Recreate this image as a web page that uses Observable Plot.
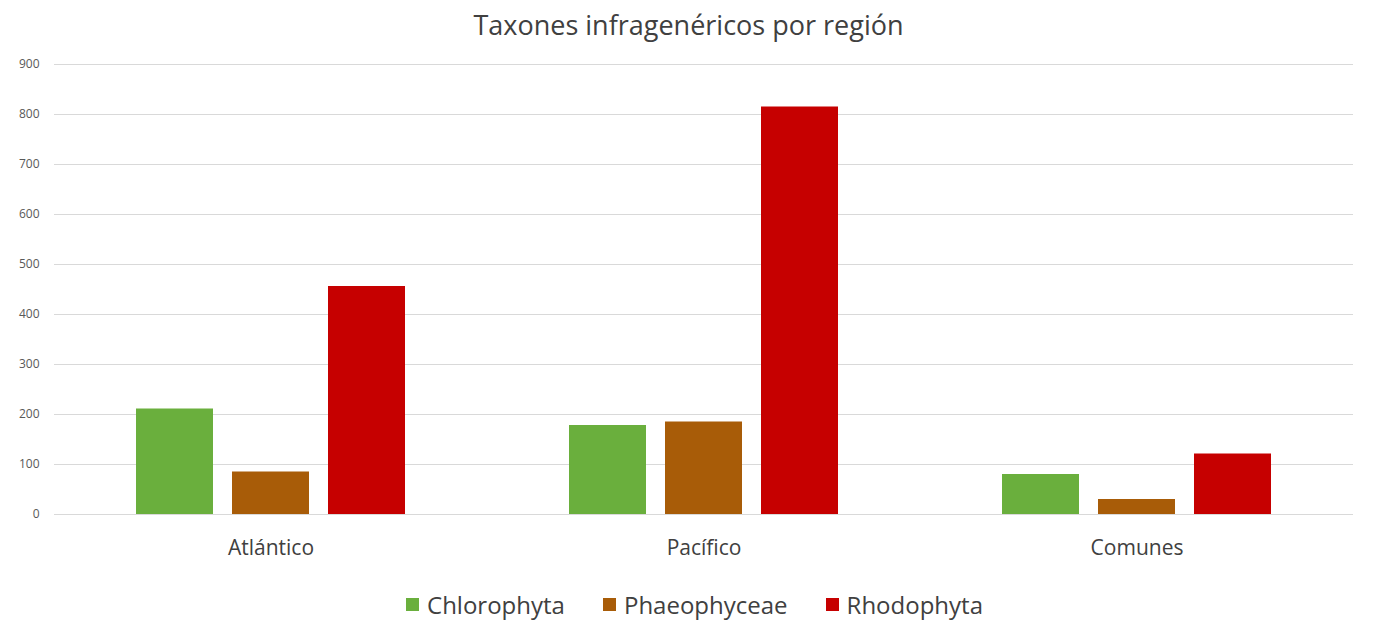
<!DOCTYPE html>
<html>
<head>
<meta charset="utf-8">
<script src="https://cdn.jsdelivr.net/npm/d3@7"></script>
<script src="https://cdn.jsdelivr.net/npm/@observablehq/plot@0.6"></script>
<style>
  html, body { margin: 0; padding: 0; background: #fff; }
  body { width: 1373px; height: 620px; overflow: hidden; font-family: "Open Sans", sans-serif; }
  #title { height: 50px; line-height: 50px; text-align: center; font-size: 27px; color: #404040; padding-left: 4px; }
  #chart svg { display: block; }
  #legend { display: flex; justify-content: center; align-items: center; height: 50px; margin-top: 9px; gap: 38px; padding-left: 16px; font-size: 24px; color: #404040; }
  .item { display: flex; align-items: center; gap: 8px; }
  .sw { width: 13px; height: 13px; display: inline-block; }
</style>
</head>
<body>
<div id="title">Taxones infragenéricos por región</div>
<div id="chart"></div>
<div id="legend"></div>
<script>
const regions = ["Atlántico", "Pacífico", "Comunes"];
const series = ["Chlorophyta", "Phaeophyceae", "Rhodophyta"];
const chlorophyta = [211, 178, 80];
const phaeophyceae = [85, 185, 30];
const rhodophyta = [456, 815, 121];
const colors = ["#6aaf3d", "#a85c08", "#c60000"];
const yTicks = [0, 100, 200, 300, 400, 500, 600, 700, 800, 900];

const values = [chlorophyta, phaeophyceae, rhodophyta];
const data = [];
regions.forEach((r, i) => series.forEach((s, j) => data.push({region: r, serie: s, value: values[j][i]})));

const chart = Plot.plot({
  width: 1373,
  height: 520,
  marginLeft: 53,
  marginRight: 20,
  marginTop: 14,
  marginBottom: 56,
  style: { fontFamily: "Open Sans, sans-serif", background: "#fff" },
  fx: { domain: regions, padding: 0, label: null },
  x: { domain: series, paddingInner: 0.2, paddingOuter: 0.84, axis: null },
  y: { domain: [0, 900], label: null },
  color: { domain: series, range: colors },
  marks: [
    Plot.gridY(yTicks, { stroke: "#d9d9d9", strokeOpacity: 1, strokeWidth: 1 }),
    Plot.axisY(yTicks, { tickSize: 0, tickPadding: 15, fontSize: 12, fill: "#595959", label: null }),
    Plot.axisFx({ anchor: "bottom", tickSize: 0, tickPadding: 26, fontSize: 21, fill: "#404040", label: null }),
    Plot.barY(data, { fx: "region", x: "serie", y: "value", fill: "serie" })
  ]
});
document.getElementById("chart").appendChild(chart);

const legend = document.getElementById("legend");
series.forEach((s, j) => {
  const it = document.createElement("div");
  it.className = "item";
  const sw = document.createElement("span");
  sw.className = "sw";
  sw.style.background = colors[j];
  const t = document.createElement("span");
  t.textContent = s;
  it.appendChild(sw); it.appendChild(t);
  legend.appendChild(it);
});
</script>
</body>
</html>
